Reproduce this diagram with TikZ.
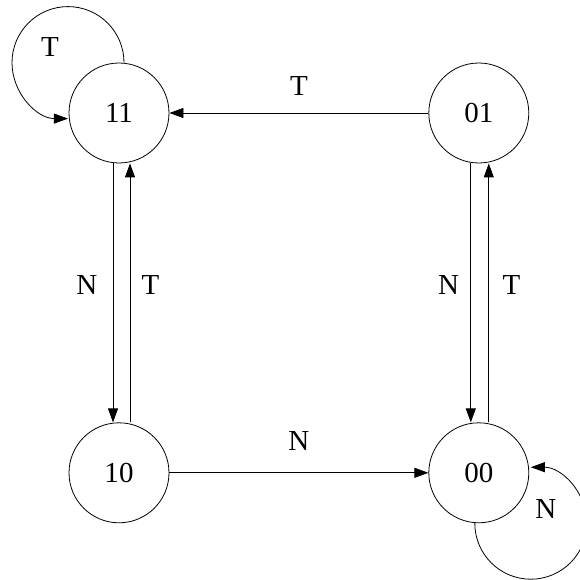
\documentclass[tikz,border=0pt]{standalone}
\usepackage{fontspec}
\setmainfont{Liberation Serif}
\usetikzlibrary{positioning,arrows.meta,calc}

\tikzset{
  state/.style={draw, circle, minimum size=100pt, inner sep=0pt, font=\fontsize{29}{31}\selectfont},
  lbl/.style={font=\fontsize{29}{31}\selectfont},
  arr/.style={-{Triangle[length=14pt,width=10pt]}, line width=0.8pt}
}

\begin{document}
\begin{tikzpicture}[line width=0.8pt]
  % Nodes
  \node[state] (s11) {11};
  \node[state, right=259pt of s11] (s01) {01};
  \node[state, below=259pt of s11] (s10) {10};
  \node[state, below=259pt of s01] (s00) {00};

  \useasboundingbox ($(s11.center)+(-119pt,113pt)$) rectangle ++(579pt,-580pt);

  % Edges
  \draw[arr] (s01) -- node[lbl, midway, above=14pt] {T} (s11);
  \draw[arr] (s10) -- node[lbl, midway, above=19pt] {N} (s00);

  \draw[arr] ([xshift=-6pt]s11.south) -- node[lbl, pos=0.47, left=12pt] {N} ([xshift=-6pt]s10.north);
  \draw[arr] ([xshift=11pt]s10.north) -- node[lbl, pos=0.53, right=8pt] {T} ([xshift=11pt]s11.south);

  \draw[arr] ([xshift=-8pt]s01.south) -- node[lbl, pos=0.47, left=8pt] {N} ([xshift=-8pt]s00.north);
  \draw[arr] ([xshift=10pt]s00.north) -- node[lbl, pos=0.53, right=10pt] {T} ([xshift=10pt]s01.south);

  % Loops
  \draw[arr] ([xshift=5pt]s11.north) arc[start angle=0, end angle=270, radius=56pt];
  \node[lbl] (t11) at ($(s11.center)+(-69pt,66pt)$) {T};
  \draw[arr] ([xshift=-4pt]s00.south) arc[start angle=180, end angle=450, radius=56pt];
  \node[lbl] (n00) at ($(s00.center)+(67pt,-36pt)$) {N};
\end{tikzpicture}
\end{document}
